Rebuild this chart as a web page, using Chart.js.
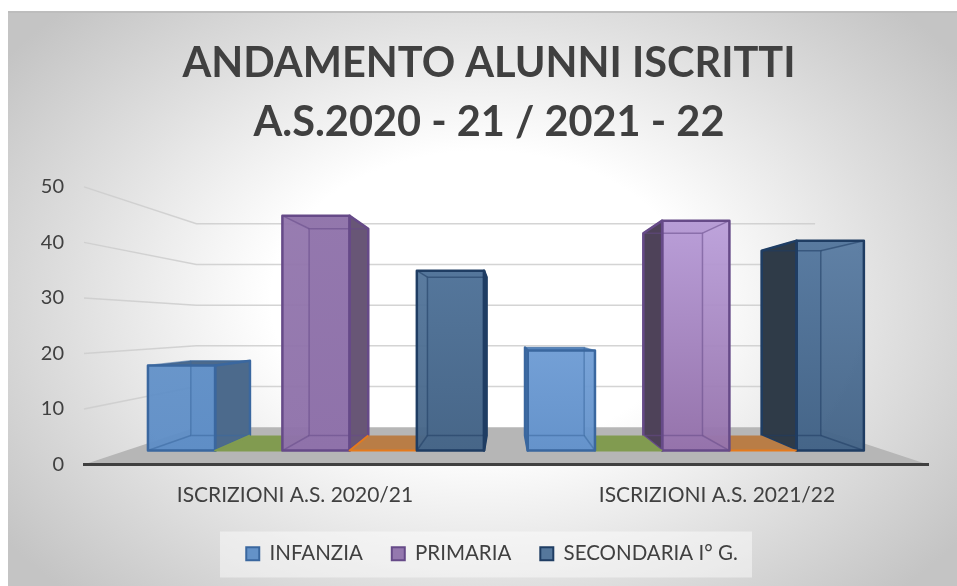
<!DOCTYPE html>
<html>
<head>
<meta charset="utf-8">
<title>Andamento alunni iscritti</title>
<script src="https://cdn.jsdelivr.net/npm/chart.js@4"></script>
<style>
html,body{margin:0;padding:0;background:#fff;overflow:hidden}
#bg{position:absolute;left:8px;top:11px;width:949px;height:575px;border-top:2px solid #bdbdbd;box-sizing:border-box;
background:radial-gradient(ellipse 62% 72% at 50% 50%,#fff 0%,#fff 36%,#dfdfdf 70%,#c4c4c4 100%)}
#wrap{position:absolute;left:0;top:0;width:957px;height:586px}
</style>
</head>
<body>
<div id="bg"></div>
<div id="wrap"><canvas id="chart1" width="957" height="586"></canvas></div>
<script>
var titleLines = ["ANDAMENTO ALUNNI ISCRITTI", "A.S.2020 - 21 / 2021 - 22"];
var categories = ["ISCRIZIONI A.S. 2020/21", "ISCRIZIONI A.S. 2021/22"];
var infanzia = [17, 20];
var primaria = [47, 46];
var secondaria = [36, 42];
// the two empty series show up only as coloured floor patches
var vuota1 = [0, 0];
var vuota2 = [0, 0];

var textColor = "#404040";

// one entry per category
var looks = {
  infanzia: {front:[["#6492c8","#5f8ec6"],["#74a0d6","#6593cb"]], side:["#4c6a8c","#5c8ac0"], edge:"#3a679f"},
  primaria: {front:[["#9478ae","#8f72aa"],["#bba0da","#9573ab"]], side:["#685676","#4e4259"], edge:"#664a88"},
  secondaria: {front:[["#55779c","#476688"],["#5a7ca2","#456588"]], side:["#3f5a78","#2f3b48"], edge:"#1f3d63"},
  vuota1: {front:[["#819b50","#819b50"],["#819b50","#819b50"]], side:["#819b50","#819b50"], edge:"#819b50"},
  vuota2: {front:[["#b97d46","#b97d46"],["#b97d46","#b97d46"]], side:["#b97d46","#b97d46"], edge:"#e57a1c"}
};

// perspective of the 3D box: everything shrinks towards this point
var vx = 505, vy = 325;
var kFront = 0.9, kBack = 0.792, kWall = 0.733;

function proj(x, y, k){
  return [vx + k*(x-vx), vy + k*(y-vy)];
}

function poly(ctx, pts, fill, stroke, lw){
  ctx.beginPath();
  ctx.moveTo(pts[0][0], pts[0][1]);
  for(var i=1;i<pts.length;i++) ctx.lineTo(pts[i][0], pts[i][1]);
  ctx.closePath();
  if(fill){ ctx.fillStyle = fill; ctx.fill(); }
  if(stroke){ ctx.strokeStyle = stroke; ctx.lineWidth = lw || 1; ctx.stroke(); }
}

function drawWalls(chart){
  var ctx = chart.ctx, a = chart.chartArea, y = chart.scales.y;
  var bl = proj(a.left, a.bottom, kWall), br = proj(a.right, a.bottom, kWall);
  poly(ctx, [[a.left,a.bottom],[a.right,a.bottom],br,bl], "#b6b6b6");
  ctx.strokeStyle = "rgba(205,205,205,.85)";
  ctx.lineWidth = 1.5;
  y.ticks.forEach(function(t){
    if(t.value === 0) return;
    var py = y.getPixelForValue(t.value);
    var p1 = proj(a.left, py, kWall), p2 = proj(a.right, py, kWall);
    ctx.beginPath();
    ctx.moveTo(a.left, py);
    ctx.lineTo(p1[0], p1[1]);
    ctx.lineTo(p2[0], p2[1]);
    ctx.stroke();
  });
}

function drawBox(ctx, el, look, idx){
  var l = el.x - el.width/2, r = el.x + el.width/2, t = el.y, b = el.base;
  var fl = proj(l,b,kFront), fr = proj(r,b,kFront), ftl = proj(l,t,kFront), ftr = proj(r,t,kFront);
  var bl = proj(l,b,kBack), br = proj(r,b,kBack), btl = proj(l,t,kBack), btr = proj(r,t,kBack);
  ctx.lineJoin = "round";

  if(Math.abs(b-t) < 0.5){
    // empty series, only the floor of the box
    poly(ctx, [fl,fr,br,bl], look.front[idx][0]);
    ctx.strokeStyle = look.edge;
    ctx.lineWidth = 2;
    ctx.beginPath();
    ctx.moveTo(bl[0],bl[1]); ctx.lineTo(fl[0],fl[1]); ctx.lineTo(fr[0],fr[1]);
    ctx.stroke();
    return;
  }

  // back and floor, seen through the front
  poly(ctx, [btl,btr,br,bl], look.front[idx][1]);
  poly(ctx, [fl,fr,br,bl], look.front[idx][1]);
  // side facing the middle of the chart
  var side = r < vx ? [ftr,btr,br,fr] : (l > vx ? [ftl,btl,bl,fl] : null);
  if(side) poly(ctx, side, look.side[idx]);
  // top
  poly(ctx, [ftl,ftr,btr,btl], look.side[idx]);
  // front
  var g = ctx.createLinearGradient(0, ftl[1], 0, fl[1]);
  g.addColorStop(0, look.front[idx][0]);
  g.addColorStop(1, look.front[idx][1]);
  ctx.globalAlpha = 0.97;
  poly(ctx, [ftl,ftr,fr,fl], g);
  ctx.globalAlpha = 1;

  // inner edges fainter than the outer ones
  ctx.globalAlpha = 0.55;
  poly(ctx, [btl,btr,br,bl], null, look.edge, 1.5);
  [[ftl,btl],[ftr,btr],[fl,bl],[fr,br]].forEach(function(s){
    ctx.beginPath(); ctx.moveTo(s[0][0],s[0][1]); ctx.lineTo(s[1][0],s[1][1]);
    ctx.strokeStyle = look.edge; ctx.lineWidth = 1.5; ctx.stroke();
  });
  ctx.globalAlpha = 1;
  poly(ctx, [ftl,ftr,fr,fl], null, look.edge, 2.5);
  if(side) poly(ctx, side, null, look.edge, 2.5);
}

var box3d = {
  id: "box3d",
  afterLayout: function(chart){
    // legend sits higher than its box would put it, and a little right of centre
    chart.legend.top -= 12;
    chart.legend.bottom -= 12;
    chart.legend.left += 3;
    chart.legend.right += 3;
  },
  beforeDraw: function(chart){
    var lg = chart.legend, ctx = chart.ctx;
    ctx.fillStyle = "rgba(255,255,255,.45)";
    ctx.fillRect(220, lg.top + 17, 532, 46);
  },
  beforeDatasetsDraw: function(chart){
    drawWalls(chart);
    var ctx = chart.ctx, list = [];
    chart.data.datasets.forEach(function(ds, i){
      chart.getDatasetMeta(i).data.forEach(function(el, j){
        list.push({el:el, look:looks[ds.key], idx:j});
      });
    });
    // outer bars first
    list.sort(function(a,b){ return Math.abs(b.el.x-vx) - Math.abs(a.el.x-vx); });
    list.forEach(function(item){ drawBox(ctx, item.el, item.look, item.idx); });
    return false;
  }
};

function makeSet(key, label, values){
  return {
    key: key,
    label: label,
    data: values,
    backgroundColor: looks[key].front[0][0],
    borderColor: looks[key].edge,
    borderWidth: 2,
    barPercentage: 1,
    categoryPercentage: 0.885
  };
}

var ctx = document.getElementById("chart1").getContext("2d");
var myChart = new Chart(ctx, {
  type: "bar",
  data: {
    labels: categories,
    datasets: [
      makeSet("infanzia", "INFANZIA", infanzia),
      makeSet("vuota1", "", vuota1),
      makeSet("primaria", "PRIMARIA", primaria),
      makeSet("vuota2", "", vuota2),
      makeSet("secondaria", "SECONDARIA I° G.", secondaria)
    ]
  },
  plugins: [box3d],
  options: {
    responsive: false,
    animation: false,
    layout: {padding: {left: 21, right: 0, top: 0, bottom: 0}},
    plugins: {
      tooltip: {enabled: false},
      title: {
        display: true,
        text: titleLines,
        color: textColor,
        font: {family: "Lato", size: 41.5, weight: "bold", lineHeight: 1.42},
        padding: {top: 34, bottom: 35}
      },
      legend: {
        position: "bottom",
        labels: {
          color: textColor,
          font: {family: "Lato", size: 20.5},
          boxWidth: 13,
          boxHeight: 13,
          padding: 29,
          filter: function(item){ return item.text !== ""; }
        }
      }
    },
    scales: {
      x: {
        grid: {display: false, drawTicks: false},
        border: {display: true, color: "#404040", width: 3, z: 1},
        ticks: {color: textColor, font: {family: "Lato", size: 21}, padding: 18, maxRotation: 0},
        afterFit: function(s){ s.height = 62; }
      },
      y: {
        min: 0,
        max: 50,
        grid: {display: false, drawTicks: false},
        border: {display: false},
        ticks: {stepSize: 10, color: textColor, font: {family: "Lato", size: 20}, padding: 20},
        afterFit: function(s){ s.width = 63; }
      },
      // empty axis, only keeps the plot clear of the right edge
      spacer: {
        position: "right",
        grid: {display: false, drawTicks: false},
        border: {display: false},
        ticks: {display: false},
        afterFit: function(s){ s.width = 29; }
      }
    }
  }
});
</script>
</body>
</html>
